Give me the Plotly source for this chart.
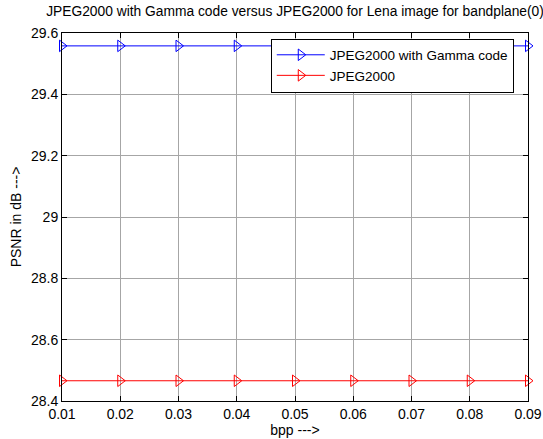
import plotly.graph_objects as go

bpp = [0.01, 0.02, 0.03, 0.04, 0.05, 0.06, 0.07, 0.08, 0.09]
psnr_gamma = [29.558] * 9
psnr_jpeg = [28.466] * 9
x_ticks = [0.01, 0.02, 0.03, 0.04, 0.05, 0.06, 0.07, 0.08, 0.09]
x_labels = ["0.01", "0.02", "0.03", "0.04", "0.05", "0.06", "0.07", "0.08", "0.09"]
y_ticks = [28.4, 28.6, 28.8, 29.0, 29.2, 29.4, 29.6]
y_labels = ["28.4", "28.6", "28.8", "29", "29.2", "29.4", "29.6"]

FAM = "Liberation Sans, Arial, sans-serif"
fnt = dict(family=FAM, size=14, color="black")

fig = go.Figure()
fig.add_trace(go.Scatter(
    x=bpp, y=psnr_gamma, mode="lines+markers", name="JPEG2000 with Gamma code",
    line=dict(color="#0000ff", width=1),
    marker=dict(symbol="triangle-right-open", size=10, color="#0000ff", line=dict(width=1)),
    cliponaxis=False,
))
fig.add_trace(go.Scatter(
    x=bpp, y=psnr_jpeg, mode="lines+markers", name="JPEG2000",
    line=dict(color="#ff0000", width=1),
    marker=dict(symbol="triangle-right-open", size=10, color="#ff0000", line=dict(width=1)),
    cliponaxis=False,
))

axis_common = dict(
    showline=True, linecolor="black", linewidth=1, mirror="ticks",
    ticks="inside", ticklen=5, tickcolor="black",
    showgrid=True, gridcolor="#a6a6a6", gridwidth=1,
    zeroline=False, tickfont=fnt, automargin=False,
)

fig.update_layout(
    width=543, height=439,
    margin=dict(l=62, r=15, t=33, b=38),
    paper_bgcolor="white", plot_bgcolor="white",
    font=fnt,
    title=dict(text="JPEG2000 with Gamma code versus JPEG2000 for Lena image for bandplane(0)",
               x=0.5, xref="paper", xanchor="center", y=1, yref="container", yanchor="top",
               pad=dict(t=6), font=dict(family=FAM, size=13.8, color="black")),
    xaxis=dict(range=[0.01, 0.09], tickvals=x_ticks, ticktext=x_labels,
               title=dict(text="bpp --->", font=fnt, standoff=2), **axis_common),
    yaxis=dict(range=[28.4, 29.6], tickvals=y_ticks, ticktext=y_labels,
               title=dict(text="PSNR in dB --->", font=fnt, standoff=6), **axis_common),
    legend=dict(x=0.448, y=0.985, xanchor="left", yanchor="top",
                bgcolor="white", bordercolor="black", borderwidth=1,
                font=dict(family=FAM, size=13.5, color="black"),
                tracegroupgap=0, itemwidth=48),
    showlegend=True,
)

fig.write_html("out.html", config={"displayModeBar": False},
               post_script="document.body.style.margin='0';document.body.style.overflow='hidden';")
